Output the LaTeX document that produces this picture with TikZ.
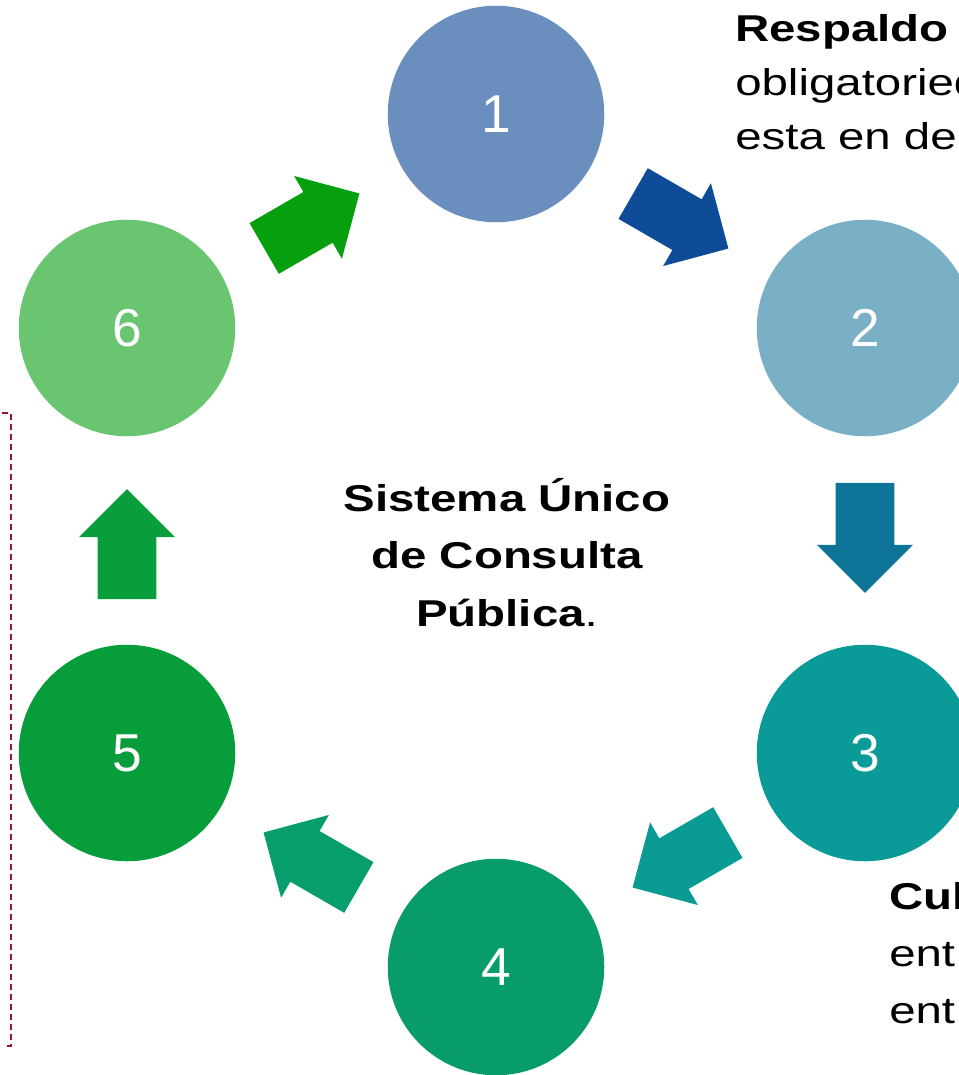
\documentclass[tikz,border=0pt]{standalone}
\usepackage{fontspec}
\setmainfont{Liberation Sans}
\newfontfamily\widefont[FakeStretch=1.27]{Liberation Sans}
\usepackage{xcolor}
\usetikzlibrary{shapes.arrows,calc,positioning}

\definecolor{circone}{HTML}{6A8FBF}
\definecolor{circtwo}{HTML}{7AB0C6}
\definecolor{circthree}{HTML}{0A9A98}
\definecolor{circfour}{HTML}{079C6A}
\definecolor{circfive}{HTML}{079D3A}
\definecolor{circsix}{HTML}{69C56F}
\definecolor{arrowone}{HTML}{0E4C97}
\definecolor{arrowtwo}{HTML}{0D7498}
\definecolor{arrowthree}{HTML}{0B9B95}
\definecolor{arrowfour}{HTML}{089D6C}
\definecolor{arrowfive}{HTML}{089E3B}
\definecolor{arrowsix}{HTML}{06A00E}
\definecolor{framered}{HTML}{A0122C}

\begin{document}
\begin{tikzpicture}[x=0.75pt,y=-0.75pt,
	stepcircle/.style={circle, minimum size=162.4pt, inner sep=0pt, text=white, font=\fontsize{40}{48}\selectfont},
	flowarrow/.style={single arrow, anchor=tail, minimum height=82.5pt, inner xsep=0pt, inner ysep=21.75pt, text height=0pt, text depth=0pt, single arrow head extend=13.9pt},
	bodytext/.style={inner sep=0pt, font=\widefont\fontsize{28}{40.5}\selectfont}]
	\useasboundingbox (0,0) rectangle (959,1075);
	\clip (0,0) rectangle (959,1075);

	% circles
	\node[stepcircle, fill=circone] (C1) at (496,114) {1};
	\node[stepcircle, fill=circtwo] (C2) at (865,328) {2};
	\node[stepcircle, fill=circthree] (C3) at (865,753) {3};
	\node[stepcircle, fill=circfour] (C4) at (496,967) {4};
	\node[stepcircle, fill=circfive] (C5) at (127,753) {5};
	\node[stepcircle, fill=circsix] (C6) at (127,328) {6};

	% arrow middles
	\coordinate (M12) at ($(C1)!0.5!(C2)$);
	\coordinate (M23) at ($(C2)!0.5!(C3)+(0,-3)$);
	\coordinate (M34) at ($(C3)!0.5!(C4)$);
	\coordinate (M45) at ($(C4)!0.5!(C5)$);
	\coordinate (M56) at ($(C5)!0.5!(C6)+(0,4)$);
	\coordinate (M61) at ($(C6)!0.5!(C1)$);

	% arrows
	\node[flowarrow, fill=arrowone, rotate=-30] (A12) at ($(M12)!41.25pt!(C1)$) {};
	\node[flowarrow, fill=arrowtwo, rotate=-90] (A23) at ($(M23)!41.25pt!(C2)$) {};
	\node[flowarrow, fill=arrowthree, rotate=210] (A34) at ($(M34)!41.25pt!(C3)$) {};
	\node[flowarrow, fill=arrowfour, rotate=150] (A45) at ($(M45)!41.25pt!(C4)$) {};
	\node[flowarrow, fill=arrowfive, rotate=90] (A56) at ($(M56)!41.25pt!(C5)$) {};
	\node[flowarrow, fill=arrowsix, rotate=30] (A61) at ($(M61)!41.25pt!(C6)$) {};

	% texts
	\node[bodytext, align=center, anchor=north, font=\widefont\fontsize{28}{43}\selectfont\bfseries] (center) at (507,478) {Sistema Único\\de Consulta\\Pública{\mdseries.}};
	\node[bodytext, align=left, anchor=north west] (support) at (735,14) {\textbf{Respaldo}\\obligatoried\\esta en de};
	\node[bodytext, align=left, anchor=north west, font=\widefont\fontsize{28}{43}\selectfont] (culture) at (889,882) {\textbf{Cul}\\ent\\ent};

	% dashed frame
	\draw[framered, line width=1.2pt, dash pattern=on 4.5pt off 3pt] (2,413) -- (11,413) -- (11,1046) -- (3,1046);
\end{tikzpicture}
\end{document}
